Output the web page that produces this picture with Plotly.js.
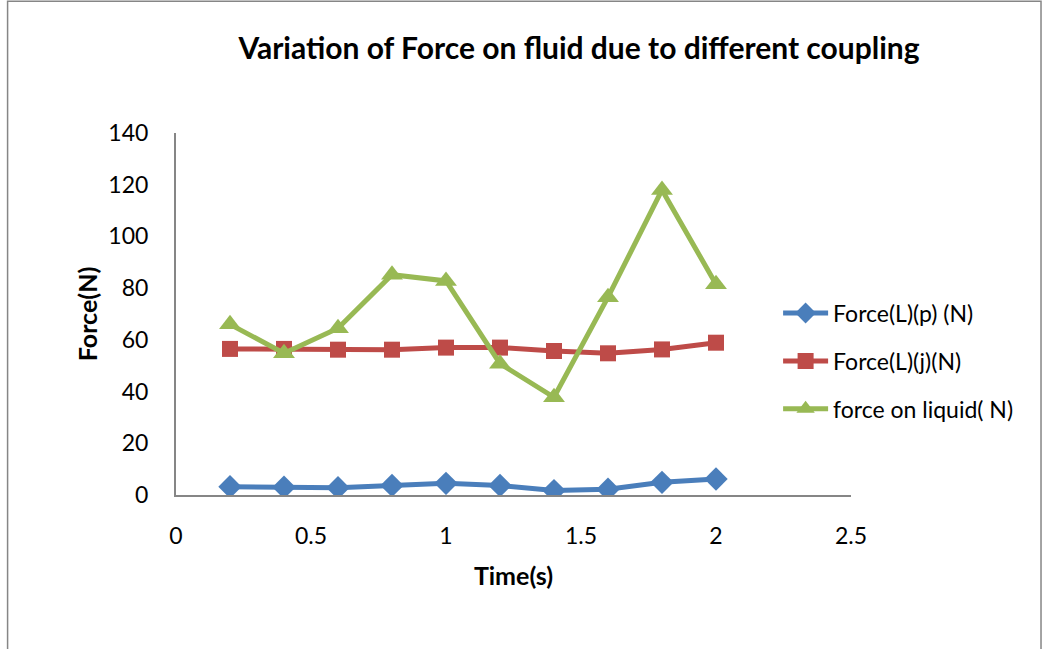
<!DOCTYPE html>
<html>
<head>
<meta charset="utf-8">
<script src="https://cdn.plot.ly/plotly-3.0.1.min.js"></script>
<style>
  html, body { margin: 0; padding: 0; background: #fff; }
  #chart { width: 1043px; height: 649px; }
</style>
</head>
<body>
<div id="chart"></div>
<script>
const time = [0.2, 0.4, 0.6, 0.8, 1.0, 1.2, 1.4, 1.6, 1.8, 2.0];
const forceP = [3.2, 3.0, 2.8, 3.7, 4.5, 3.7, 1.7, 2.2, 4.9, 6.2];
const forceJ = [56.5, 56.5, 56.2, 56.2, 57.0, 57.0, 55.7, 54.8, 56.3, 58.9];
const forceLiquid = [66.0, 54.8, 64.5, 85.2, 82.8, 50.8, 37.8, 76.5, 118.0, 81.5];
const seriesNames = ['Force(L)(p) (N)', 'Force(L)(j)(N)', 'force on liquid( N)'];
const xTicks = [0, 0.5, 1, 1.5, 2, 2.5];
const xTickText = ['0', '0.5', '1', '1.5', '2', '2.5'];
const yTicks = [0, 20, 40, 60, 80, 100, 120, 140];

const FONT = 'Lato, "Open Sans", sans-serif';

const traces = [
  {
    x: time, y: forceP, name: seriesNames[0], type: 'scatter', mode: 'lines+markers',
    line: { color: '#4A7EBB', width: 5 },
    marker: { symbol: 'diamond', size: 18, color: '#4A7EBB' },
    legendgroup: 'a'
  },
  {
    x: time, y: forceJ, name: seriesNames[1], type: 'scatter', mode: 'lines+markers',
    line: { color: '#BE4B48', width: 5 },
    marker: { symbol: 'square', size: 16, color: '#BE4B48' },
    legendgroup: 'b'
  },
  {
    x: time, y: forceLiquid, name: seriesNames[2], type: 'scatter', mode: 'lines+markers',
    line: { color: '#98B954', width: 5 },
    marker: { symbol: 'triangle-up', size: 19, color: '#98B954' },
    legendgroup: 'c'
  }
];

const layout = {
  width: 1043, height: 649,
  margin: { l: 176, r: 192, t: 133, b: 154 },
  paper_bgcolor: '#fff', plot_bgcolor: '#fff',
  font: { family: FONT, color: '#000', size: 23 },
  title: {
    text: '<b>Variation of Force on fluid due to different coupling</b>',
    font: { family: FONT, size: 30, color: '#000' },
    xref: 'paper', x: 0.597, xanchor: 'center',
    yref: 'container', y: 0.926, yanchor: 'middle'
  },
  xaxis: {
    range: [0, 2.5], tickvals: xTicks, ticktext: xTickText,
    showgrid: false, zeroline: false,
    showline: true, linecolor: '#868686', linewidth: 2,
    ticks: '', ticklabelstandoff: 19,
    tickfont: { family: FONT, size: 23, color: '#000' },
    title: { text: '<b>Time(s)</b>', font: { family: FONT, size: 25, color: '#000' }, standoff: 20 }
  },
  yaxis: {
    range: [0, 140], tickvals: yTicks,
    showgrid: false, zeroline: false,
    showline: true, linecolor: '#868686', linewidth: 2,
    ticks: '', ticklabelstandoff: 21,
    tickfont: { family: FONT, size: 23, color: '#000' },
    title: { text: '<b>Force(N)</b>', font: { family: FONT, size: 25, color: '#000' }, standoff: 4 }
  },
  legend: {
    x: 0.892, xanchor: 'left', y: 0.37, yanchor: 'middle',
    xref: 'paper', yref: 'paper',
    font: { family: FONT, size: 23, color: '#000' },
    traceorder: 'grouped', tracegroupgap: 15, itemwidth: 45,
    bgcolor: 'rgba(0,0,0,0)'
  },
  showlegend: true,
  shapes: [
    {
      type: 'rect', xref: 'paper', yref: 'paper',
      x0: -0.2495, x1: 1.2815, y0: -0.5, y1: 1.364,
      line: { color: '#868686', width: 1.5 }, fillcolor: 'rgba(0,0,0,0)', layer: 'below'
    }
  ]
};

Plotly.newPlot('chart', traces, layout, { displayModeBar: false, staticPlot: true });
</script>
</body>
</html>
